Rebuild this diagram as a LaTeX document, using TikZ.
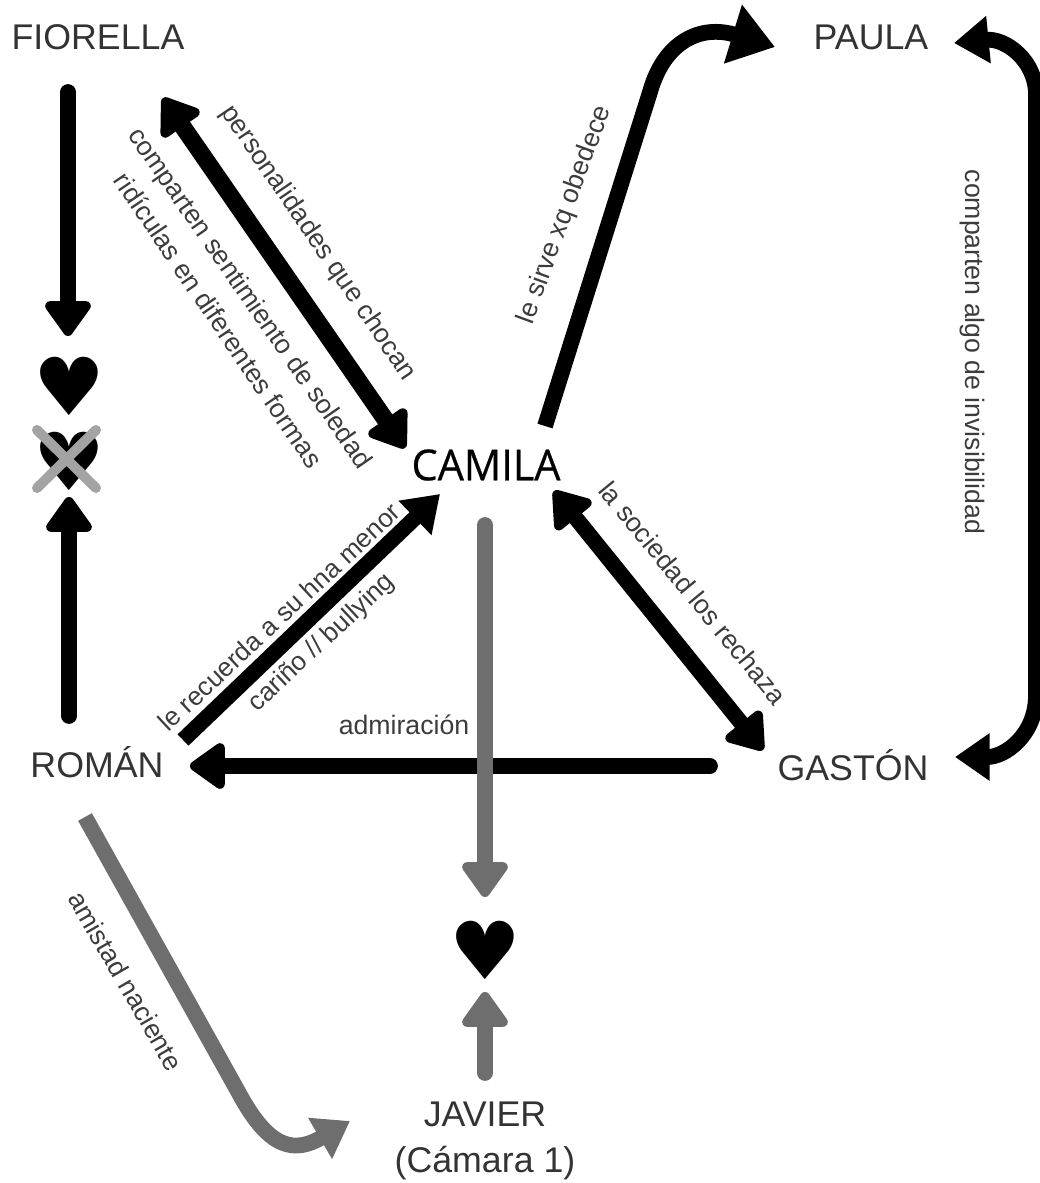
\documentclass[tikz,border=0pt]{standalone}
\usepackage{fontspec}
\setmainfont{Liberation Sans}
\newfontfamily\camfont[BoldFont={Open Sans},BoldFeatures={FakeBold=0.5,FakeStretch=0.97}]{Open Sans}
\newfontfamily\heartfont{DejaVu Sans}
\usetikzlibrary{arrows.meta}
\definecolor{txt}{HTML}{333333}
\definecolor{lbl}{HTML}{3C3C3C}
\definecolor{gr}{HTML}{6E6E6E}
\definecolor{crossc}{HTML}{A3A3A3}
\tikzset{
  x=0.75pt,y=-0.75pt,
  person/.style={inner sep=0pt,text=txt,font=\fontsize{26.8}{30}\selectfont,align=center},
  lab/.style={inner sep=0pt,text=lbl,font=\fontsize{20}{24}\selectfont},
  labsmall/.style={lab,font=\fontsize{19.6}{24}\selectfont},
  heartsym/.style={inner sep=0pt,text=black,font=\heartfont\fontsize{60}{60}\selectfont},
  tipk/.tip={Triangle[length=29pt,width=39pt,round]},
  tipsharp/.tip={Triangle[length=26pt,width=34pt]},
  tipbig/.tip={Triangle[length=33pt,width=44pt]},
  conn/.style={line width=11.8pt,draw=black,line cap=round,line join=round},
  connthick/.style={conn,line width=13pt},
  greyconn/.style={conn,draw=gr},
  flatstart/.style={line cap=butt},
  crossl/.style={line width=7.5pt,draw=crossc,line cap=round},
}
\begin{document}
\begin{tikzpicture}
\useasboundingbox (0,0) rectangle (1040,1183);
% names
\node[person] (fiorella) at (98,37) {FIORELLA};
\node[person] (paula) at (871,37) {PAULA};
\node[inner sep=0pt,text=black,font=\camfont\bfseries\fontsize{32}{34}\selectfont] (camila) at (486,465) {CAMILA};
\node[person] (roman) at (97,762) {ROMÁN};
\node[person] (gaston) at (853,765) {GASTÓN};
\node[person] (javier) at (485,1114) {JAVIER};
\node[person] (camara) at (485,1163) {(Cámara 1)};
% hearts
\node[heartsym] (h1) at (69,386) {♥};
\node[heartsym] (h2) at (69,461) {♥};
\node[heartsym] (h3) at (485,950) {♥};
% cross
\coordinate (xa) at (37,430); \coordinate (xb) at (96,488);
\coordinate (xc) at (96,430); \coordinate (xd) at (37,488);
\draw[crossl] (xa) -- (xb);
\draw[crossl] (xc) -- (xd);
% connector ends
\coordinate (f1) at (68,92);   \coordinate (f2) at (68,336);
\coordinate (r1) at (69,716);  \coordinate (r2) at (69,497);
\coordinate (fc1) at (163,98); \coordinate (fc2) at (405,448);
\coordinate (cp1) at (545,426);\coordinate (cp2) at (650,92); \coordinate (cp3) at (775,47);
\coordinate (pg1) at (954,43); \coordinate (pg2) at (1036,95); \coordinate (pg3) at (1036,695); \coordinate (pg4) at (955,757);
\coordinate (cg1) at (554,491);\coordinate (cg2) at (763,750);
\coordinate (rc1) at (183,740);\coordinate (rc2) at (440,494);
\coordinate (gr1) at (710,766);\coordinate (gr2) at (190,766);
\coordinate (cj1) at (485,525);\coordinate (cj2) at (485,897);
\coordinate (j1) at (485,1073);\coordinate (j2) at (485,992);
\coordinate (rj1) at (85,817); \coordinate (rj2) at (240,1095);\coordinate (rj3) at (350,1121);
% connectors
\draw[conn,-{tipk}] (f1) -- (f2);
\draw[conn,-{tipk}] (r1) -- (r2);
\draw[connthick,{tipk}-{tipk}] (fc1) -- (fc2);
\draw[conn,flatstart,-{tipbig}] (cp1) -- (cp2) .. controls (664,42) and (700,24) .. (cp3);
\draw[conn,{tipsharp}-{tipsharp}] (pg1) .. controls (1005,38) and (1036,60) .. (pg2) -- (pg3) .. controls (1036,735) and (1005,757) .. (pg4);
\draw[conn,{tipk}-{tipk}] (cg1) -- (cg2);
\draw[conn,flatstart,-{tipsharp}] (rc1) -- (rc2);
\draw[conn,-{tipk}] (gr1) -- (gr2);
\draw[greyconn,-{tipk}] (cj1) -- (cj2);
\draw[greyconn,-{tipk}] (j1) -- (j2);
\draw[greyconn,flatstart,-{tipsharp}] (rj1) -- (rj2) .. controls (270,1150) and (295,1153) .. (rj3);
% labels
\node[lab,rotate=-55.7] (l1) at (318,243) {personalidades que chocan};
\node[lab,rotate=-55.3] (l2) at (249,299) {comparten sentimiento de soledad};
\node[lab,rotate=-55.8] (l3) at (219,320) {ridículas en diferentes formas};
\node[lab,rotate=70] (l4) at (565,215) {le sirve xq obedece};
\node[lab,rotate=-90] (l5) at (972,352) {comparten algo de invisibilidad};
\node[lab,rotate=-50.6] (l6) at (693,593) {la sociedad los rechaza};
\node[labsmall,rotate=43] (l7) at (279,617) {le recuerda a su hna menor};
\node[labsmall,rotate=43] (l8) at (322,643) {cariño // bullying};
\node[lab] (l9) at (404,725) {admiración};
\node[lab,rotate=-60] (l10) at (126,981) {amistad naciente};
\end{tikzpicture}
\end{document}
